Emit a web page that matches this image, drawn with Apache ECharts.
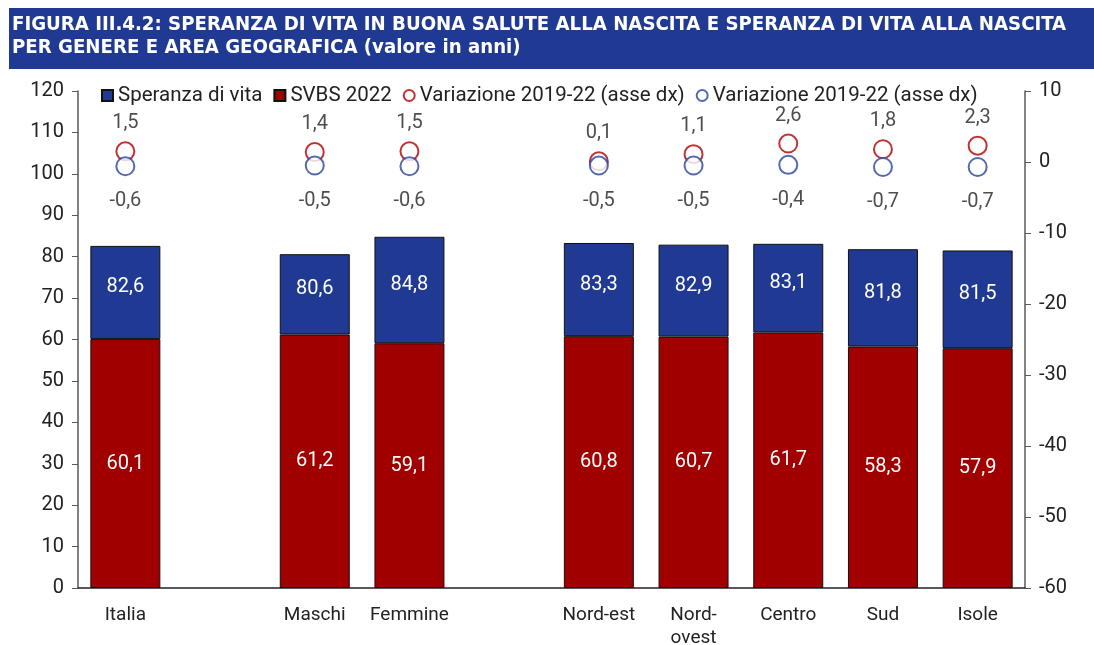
<!DOCTYPE html>
<html>
<head>
<meta charset="utf-8">
<style>
  html, body { margin: 0; padding: 0; background: #fff; }
  #chart { width: 1094px; height: 645px; }
</style>
<script src="https://cdn.jsdelivr.net/npm/echarts@6/dist/echarts.min.js"></script>
</head>
<body>
<div id="chart"></div>
<script>
  const categories = ['Italia', ' ', 'Maschi', 'Femmine', '  ', 'Nord-est', 'Nord-\novest', 'Centro', 'Sud', 'Isole'];
  const speranza = [82.6, null, 80.6, 84.8, null, 83.3, 82.9, 83.1, 81.8, 81.5];
  const svbs = [60.1, null, 61.2, 59.1, null, 60.8, 60.7, 61.7, 58.3, 57.9];
  const varSvbs = [1.5, null, 1.4, 1.5, null, 0.1, 1.1, 2.6, 1.8, 2.3];
  const varSperanza = [-0.6, null, -0.5, -0.6, null, -0.5, -0.5, -0.4, -0.7, -0.7];

  const BLUE = '#203a93';
  const RED = '#a00000';
  const font = 'Roboto, "Liberation Sans", sans-serif';
  const fmt = v => v == null ? '' : v.toFixed(1).replace('.', ',');

  // blue part is stacked on top of the red one, label shows the total
  const gap = speranza.map((v, i) => v == null ? null : +(v - svbs[i]).toFixed(1));

  const chart = echarts.init(document.getElementById('chart'), null, { renderer: 'canvas' });
  chart.setOption({
    animation: false,
    textStyle: { fontFamily: font },
    graphic: [{
      type: 'rect', left: 9, top: 8, z: 0,
      shape: { width: 1085, height: 61 },
      style: { fill: BLUE }
    }, {
      type: 'text', left: 12, top: 13, z: 1,
      style: {
        text: 'FIGURA III.4.2: SPERANZA DI VITA IN BUONA SALUTE ALLA NASCITA E SPERANZA DI VITA ALLA NASCITA\nPER GENERE E AREA GEOGRAFICA (valore in anni)',
        fill: '#fff', font: 'bold 20.2px "DejaVu Sans Condensed", "DejaVu Sans", sans-serif',
        lineHeight: 23
      }
    }],
    legend: {
      left: 96, top: 80,
      itemWidth: 11, itemHeight: 11, itemGap: 11,
      textStyle: { fontSize: 20.5, color: '#222', fontFamily: font },
      data: [
        { name: 'Speranza di vita', icon: 'rect' },
        { name: 'SVBS 2022', icon: 'rect' },
        { name: 'Variazione 2019-22 (asse dx)', icon: 'emptyCircle' },
        { name: 'Variazione 2019-22 (asse dx) ', icon: 'emptyCircle' }
      ]
    },
    grid: { left: 78, right: 69, top: 91, bottom: 57, outerBoundsMode: 'none' },
    xAxis: {
      type: 'category', data: categories,
      axisLine: { lineStyle: { color: '#222', width: 1.5 } },
      axisTick: { show: false },
      axisLabel: { fontSize: 19, color: '#222', margin: 16, lineHeight: 23, interval: 0 }
    },
    yAxis: [{
      type: 'value', min: 0, max: 120, interval: 10,
      splitLine: { show: false },
      axisLine: { show: true, lineStyle: { color: '#595959', width: 1.5 } },
      axisTick: { show: true, inside: false, length: 6, lineStyle: { color: '#595959' } },
      axisLabel: { fontSize: 20, color: '#222', margin: 14 }
    }, {
      type: 'value', min: -60, max: 10, interval: 10,
      splitLine: { show: false },
      axisLine: { show: true, lineStyle: { color: '#595959', width: 1.5 } },
      axisTick: { show: true, inside: false, length: 6, lineStyle: { color: '#595959' } },
      axisLabel: { fontSize: 20, color: '#222', margin: 14 }
    }],
    series: [{
      name: 'SVBS 2022', type: 'bar', stack: 'tot', barWidth: 70,
      data: svbs,
      itemStyle: { color: RED, borderColor: '#111', borderWidth: 1 },
      label: { show: true, position: 'inside', color: '#fff', fontSize: 20, formatter: p => fmt(p.value) }
    }, {
      name: 'Speranza di vita', type: 'bar', stack: 'tot', barWidth: 70,
      data: gap,
      itemStyle: { color: BLUE, borderColor: '#111', borderWidth: 1 },
      label: {
        show: true, position: 'inside', offset: [0, -5], color: '#fff', fontSize: 20,
        formatter: p => fmt(speranza[p.dataIndex])
      }
    }, {
      name: 'Variazione 2019-22 (asse dx)', type: 'scatter', yAxisIndex: 1,
      data: varSvbs, symbol: 'emptyCircle', symbolSize: 18,
      itemStyle: { color: '#b00000', borderWidth: 2 },
      label: { show: true, position: 'top', distance: 8, color: '#222', fontSize: 20, formatter: p => fmt(p.value[1] ?? p.value) }
    }, {
      name: 'Variazione 2019-22 (asse dx) ', type: 'scatter', yAxisIndex: 1,
      data: varSperanza, symbol: 'emptyCircle', symbolSize: 18,
      itemStyle: { color: '#2a44a0', borderWidth: 2 },
      label: { show: true, position: 'bottom', distance: 15, color: '#222', fontSize: 20, formatter: p => fmt(p.value[1] ?? p.value) }
    }]
  });
</script>
</body>
</html>
